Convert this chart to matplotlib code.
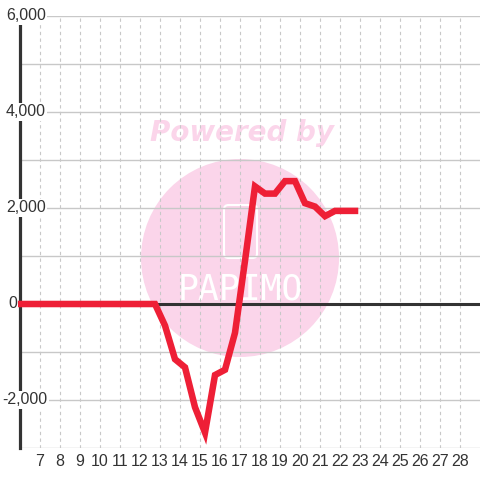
import numpy as np
import matplotlib
matplotlib.use("Agg")
import matplotlib.pyplot as plt
from matplotlib.patches import Ellipse, FancyBboxPatch

# day of month (half-day steps) and balance
days = [6.0, 12.75, 13.25, 13.75, 14.25, 14.75, 15.25, 15.75, 16.25, 16.75,
        17.25, 17.75, 18.25, 18.75, 19.25, 19.75, 20.25, 20.75, 21.25,
        21.75, 22.25, 22.75]
values = [0, 0, -450, -1150, -1320, -2150, -2680, -1480, -1370, -600,
          900, 2450, 2300, 2300, 2560, 2560, 2100, 2030, 1830,
          1940, 1940, 1940]

x_ticks = list(range(7, 29))
y_ticks = [-2000, 0, 2000, 4000, 6000]
y_labels = ["-2,000", "0", "2,000", "4,000", "6,000"]

plt.rcParams['font.family'] = ['Liberation Sans', 'DejaVu Sans']

fig = plt.figure(figsize=(4.8, 4.8), dpi=100)
ax = fig.add_axes([20 / 480, 32 / 480, 460 / 480, 432 / 480])
ax.set_xlim(6, 29)
ax.set_ylim(-3000, 6000)

# grid
ax.set_axisbelow(True)
ax.set_yticks(np.arange(-3000, 6001, 1000))
ax.set_xticks(x_ticks)
ax.xaxis.grid(True, color='#c8c8c8', lw=0.8, ls=(0, (3, 3)))
ax.yaxis.grid(True, color='#c8c8c8', lw=1.0)
ax.set_yticklabels([])
ax.tick_params(axis='y', length=0)
ax.tick_params(axis='x', length=0, pad=4, labelsize=11.5, colors='#333333')

for s in ['top', 'right', 'bottom']:
    ax.spines[s].set_visible(False)
ax.spines['left'].set_color('#333333')
ax.spines['left'].set_linewidth(2.3)

# watermark
ax.add_patch(Ellipse((0.4783, 0.4398), 0.4304, 0.4583, transform=ax.transAxes,
                     facecolor='#fbd5ea', edgecolor='none', zorder=0))
ax.add_patch(FancyBboxPatch((0.4435, 0.4398), 0.0717, 0.1227,
                            boxstyle='round,pad=0,rounding_size=0.01',
                            transform=ax.transAxes, facecolor='none',
                            edgecolor='white', lw=1.5, zorder=0.5))
ax.text(0.4826, 0.729, "Powered by", transform=ax.transAxes, ha='center',
        va='center', fontsize=20, fontweight='heavy', fontstyle='italic',
        family='DejaVu Sans', color='#fbd5ea', zorder=0)
ax.text(0.4783, 0.368, "PAPIMO", transform=ax.transAxes, ha='center',
        va='center', fontsize=25, family='DejaVu Sans Mono', color='white',
        zorder=0.5)

ax.axhline(0, color='#333333', lw=2.2, zorder=3)
ax.plot(days, values, color='#ee1f36', lw=4.7, solid_joinstyle='miter',
        solid_capstyle='projecting', zorder=4, clip_on=False)

# y labels with white background, left aligned
for v, lab in zip(y_ticks, y_labels):
    if lab.startswith("-"):
        xpos = -18 / 460
    elif lab == "0":
        xpos = -12 / 460
    else:
        xpos = -14 / 460
    ax.text(xpos, v, lab,
            transform=ax.get_yaxis_transform(), ha='left', va='center',
            fontsize=11.5, color='#333333', zorder=5, clip_on=False,
            bbox=dict(facecolor='white', edgecolor='none', pad=1.0))

fig.savefig("out.png", dpi=100, facecolor='white')
